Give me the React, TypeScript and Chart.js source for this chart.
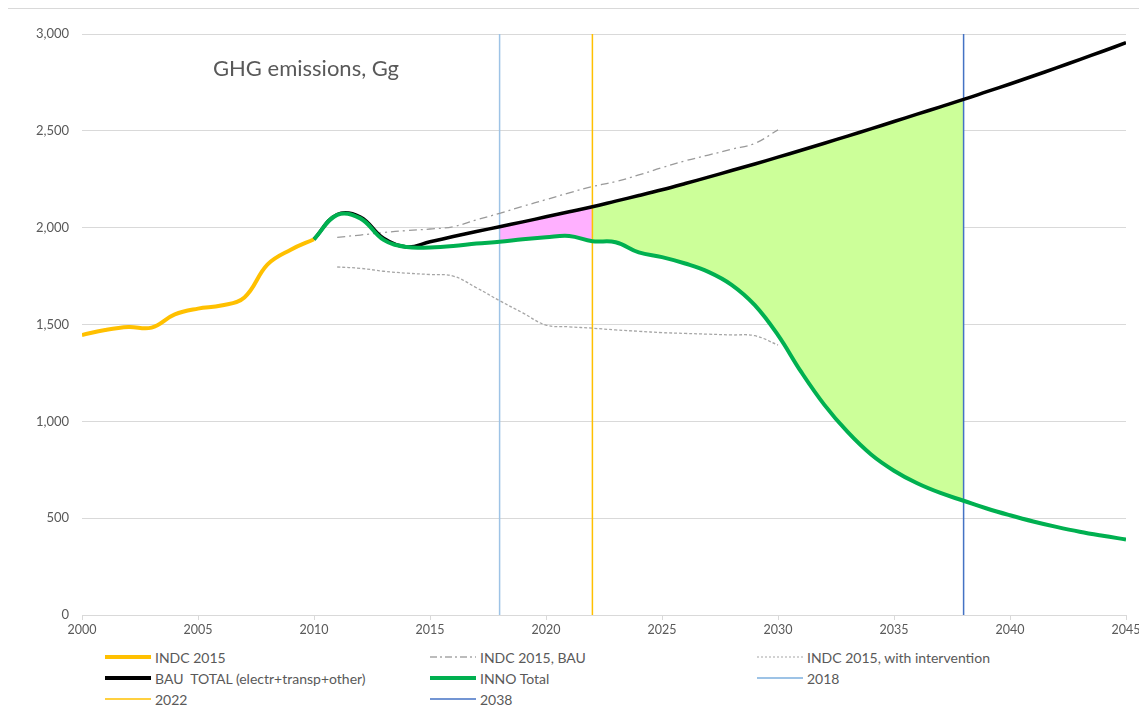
import React, { useEffect, useRef } from "react";
import { Chart, registerables } from "chart.js";

Chart.register(...registerables);

// ---------- data ----------
const indcYears = [2000, 2001, 2002, 2003, 2004, 2005, 2006, 2007, 2008, 2009, 2010];
const indcValues = [1446, 1472, 1487, 1484, 1552, 1582, 1598, 1640, 1810, 1886, 1940];

const indcBauYears = [2011, 2012, 2013, 2014, 2015, 2016, 2017, 2018, 2019, 2020, 2021, 2022, 2023, 2024, 2025, 2026, 2027, 2028, 2029, 2030];
const indcBauValues = [1950, 1962, 1975, 1985, 1993, 2005, 2040, 2074, 2110, 2145, 2180, 2212, 2238, 2272, 2310, 2345, 2375, 2405, 2435, 2505];

const indcIntYears = [2011, 2012, 2013, 2014, 2015, 2016, 2017, 2018, 2019, 2020, 2021, 2022, 2023, 2024, 2025, 2026, 2027, 2028, 2029, 2030];
const indcIntValues = [1797, 1790, 1775, 1765, 1758, 1750, 1690, 1623, 1560, 1497, 1488, 1481, 1472, 1465, 1458, 1454, 1450, 1446, 1442, 1394];

const mainYears = [2010, 2011, 2012, 2013, 2014, 2015, 2016, 2017, 2018, 2019, 2020, 2021, 2022, 2023, 2024, 2025, 2026, 2027, 2028, 2029, 2030, 2031, 2032, 2033, 2034, 2035, 2036, 2037, 2038, 2039, 2040, 2041, 2042, 2043, 2044, 2045];
const bauTotalValues = [1940, 2068, 2055, 1945, 1900, 1927, 1954, 1980, 2005, 2030, 2056, 2082, 2108, 2137, 2166, 2196, 2228, 2261, 2295, 2329, 2364, 2400, 2436, 2473, 2510, 2548, 2586, 2624, 2662, 2702, 2742, 2783, 2825, 2868, 2911, 2955];
const innoTotalValues = [1940, 2066, 2048, 1937, 1900, 1898, 1905, 1918, 1927, 1940, 1950, 1957, 1930, 1925, 1872, 1848, 1815, 1772, 1705, 1600, 1445, 1255, 1085, 945, 830, 745, 680, 630, 590, 550, 515, 483, 455, 430, 409, 390];

const markerYears = [2018, 2022, 2038];
const pinkRange = [2018, 2022];
const greenRange = [2022, 2038];

const xTicks = [2000, 2005, 2010, 2015, 2020, 2025, 2030, 2035, 2040, 2045];
const yTicks = [0, 500, 1000, 1500, 2000, 2500, 3000];

const titleText = "GHG emissions, Gg";

// ---------- styles ----------
const C_YELLOW = "#FFC000";
const C_BLACK = "#000000";
const C_GREEN = "#00B050";
const C_GRAY = "#A6A6A6";
const C_2018 = "#9DC3E6";
const C_2022 = "#FFC000";
const C_2038 = "#4472C4";
const C_PINK = "#FFB0FF";
const C_LIME = "#CCFF99";
const TEXT = "#595959";
const FONT = "Lato, 'Open Sans', sans-serif";

const zip = (xs: number[], ys: number[]) => xs.map((x, i) => ({ x, y: ys[i] }));
const inRange = (xs: number[], ys: number[], r: number[]) =>
  zip(xs, ys).filter((p) => p.x >= r[0] && p.x <= r[1]);

type LegendItem = { label: string; color: string; width: number; dash?: string; col: number; row: number };
const legendItems: LegendItem[] = [
  { label: "INDC 2015", color: C_YELLOW, width: 4, col: 0, row: 0 },
  { label: "INDC 2015, BAU", color: C_GRAY, width: 1.5, dash: "7 3 2 3", col: 1, row: 0 },
  { label: "INDC 2015, with intervention", color: C_GRAY, width: 1.2, dash: "2 2", col: 2, row: 0 },
  { label: "BAU  TOTAL (electr+transp+other)", color: C_BLACK, width: 4, col: 0, row: 1 },
  { label: "INNO Total", color: C_GREEN, width: 4, col: 1, row: 1 },
  { label: "2018", color: C_2018, width: 2, col: 2, row: 1 },
  { label: "2022", color: C_2022, width: 1.5, col: 0, row: 2 },
  { label: "2038", color: C_2038, width: 1.5, col: 1, row: 2 },
];

export default function App() {
  const ref = useRef<HTMLCanvasElement | null>(null);

  useEffect(() => {
    if (!ref.current) return;
    const vline = (year: number, color: string) => ({
      label: String(year),
      data: [
        { x: year, y: yTicks[0] },
        { x: year, y: yTicks[yTicks.length - 1] },
      ],
      borderColor: color,
      borderWidth: 1.5,
      pointRadius: 0,
      tension: 0,
      fill: false,
      order: 5,
    });
    const chart = new Chart(ref.current, {
      type: "line",
      data: {
        datasets: [
          {
            label: "pinkLower",
            data: inRange(mainYears, innoTotalValues, pinkRange),
            borderWidth: 0,
            pointRadius: 0,
            tension: 0.4,
            fill: false,
            order: 10,
          },
          {
            label: "pinkUpper",
            data: inRange(mainYears, bauTotalValues, pinkRange),
            borderWidth: 0,
            pointRadius: 0,
            tension: 0.4,
            fill: "-1",
            backgroundColor: C_PINK,
            order: 10,
          },
          {
            label: "limeLower",
            data: inRange(mainYears, innoTotalValues, greenRange),
            borderWidth: 0,
            pointRadius: 0,
            tension: 0.4,
            fill: false,
            order: 10,
          },
          {
            label: "limeUpper",
            data: inRange(mainYears, bauTotalValues, greenRange),
            borderWidth: 0,
            pointRadius: 0,
            tension: 0.4,
            fill: "-1",
            backgroundColor: C_LIME,
            order: 10,
          },
          vline(markerYears[0], C_2018),
          vline(markerYears[1], C_2022),
          vline(markerYears[2], C_2038),
          {
            label: "INDC 2015, BAU",
            data: zip(indcBauYears, indcBauValues),
            borderColor: "#9A9A9A",
            borderWidth: 1.3,
            borderDash: [8, 4, 2, 4],
            pointRadius: 0,
            tension: 0.4,
            fill: false,
            order: 3,
          },
          {
            label: "INDC 2015, with intervention",
            data: zip(indcIntYears, indcIntValues),
            borderColor: C_GRAY,
            borderWidth: 1.3,
            borderDash: [3, 2],
            pointRadius: 0,
            tension: 0.4,
            fill: false,
            order: 3,
          },
          {
            label: "BAU  TOTAL (electr+transp+other)",
            data: zip(mainYears, bauTotalValues),
            borderColor: C_BLACK,
            borderWidth: 3.5,
            pointRadius: 0,
            tension: 0.4,
            fill: false,
            order: 2,
          },
          {
            label: "INDC 2015",
            data: zip(indcYears, indcValues),
            borderColor: C_YELLOW,
            borderWidth: 4,
            pointRadius: 0,
            tension: 0.4,
            fill: false,
            order: 1,
          },
          {
            label: "INNO Total",
            data: zip(mainYears, innoTotalValues),
            borderColor: C_GREEN,
            borderWidth: 4,
            pointRadius: 0,
            tension: 0.4,
            fill: false,
            order: 0,
          },
        ],
      },
      options: {
        animation: false,
        responsive: false,
        maintainAspectRatio: false,
        layout: { padding: { top: 25, right: 21, bottom: 0, left: 0 } },
        plugins: {
          legend: { display: false },
          tooltip: { enabled: false },
          title: { display: false },
        },
        scales: {
          x: {
            type: "linear",
            min: xTicks[0],
            max: xTicks[xTicks.length - 1],
            afterBuildTicks: (s: any) => {
              s.ticks = xTicks.map((v) => ({ value: v }));
            },
            afterFit: (s: any) => {
              s.height = 28;
            },
            ticks: {
              callback: (v: any) => String(v),
              color: TEXT,
              font: { family: FONT, size: 12.5 },
              padding: 2,
              maxRotation: 0,
              autoSkip: false,
            },
            grid: {
              drawOnChartArea: false,
              drawTicks: true,
              tickLength: 5,
              color: "#D9D9D9",
            },
            border: { display: true, color: "#D9D9D9", width: 1 },
          },
          y: {
            min: yTicks[0],
            max: yTicks[yTicks.length - 1],
            afterBuildTicks: (s: any) => {
              s.ticks = yTicks.map((v) => ({ value: v }));
            },
            afterFit: (s: any) => {
              s.width = 74;
            },
            ticks: {
              callback: (v: any) => Number(v).toLocaleString("en-US"),
              color: TEXT,
              font: { family: FONT, size: 13 },
              padding: 13,
            },
            grid: {
              color: "#D9D9D9",
              drawTicks: false,
              lineWidth: 1,
            },
            border: { display: false },
          },
        },
      },
    } as any);
    return () => chart.destroy();
  }, []);

  const colX = [97, 422, 749];
  const rowY = [640, 661, 682];

  return (
    <div
      style={{
        position: "relative",
        marginLeft: -1,
        width: 1139,
        height: 706,
        borderLeft: "1px solid #D9D9D9",
        borderTop: "1px solid #D9D9D9",
        background: "#fff",
        fontFamily: FONT,
      }}
    >
      <canvas
        ref={ref}
        width={1139}
        height={634}
        style={{ position: "absolute", left: 0, top: 0, width: 1139, height: 634 }}
      />
      <div
        style={{
          position: "absolute",
          left: 205,
          top: 47,
          fontSize: 22,
          lineHeight: "24px",
          color: TEXT,
          whiteSpace: "nowrap",
        }}
      >
        {titleText}
      </div>
      {legendItems.map((it) => (
        <div
          key={it.label}
          style={{
            position: "absolute",
            left: colX[it.col],
            top: rowY[it.row],
            height: 16,
            display: "flex",
            alignItems: "center",
            fontSize: 14,
            color: TEXT,
            whiteSpace: "pre",
          }}
        >
          <svg width={46} height={8} style={{ marginRight: 4, display: "block" }}>
            <line
              x1={0}
              y1={4}
              x2={46}
              y2={4}
              stroke={it.color}
              strokeWidth={it.width}
              strokeDasharray={it.dash}
            />
          </svg>
          <span>{it.label}</span>
        </div>
      ))}
    </div>
  );
}
